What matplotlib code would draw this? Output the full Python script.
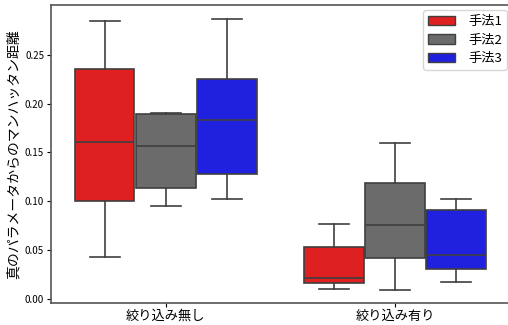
import matplotlib
matplotlib.use('Agg')
from matplotlib import pyplot as plt
from matplotlib.patches import Patch

plt.rcParams['font.family'] = ['Noto Sans CJK JP', 'DejaVu Sans']

groups = ['絞り込み無し', '絞り込み有り']
methods = ['手法1', '手法2', '手法3']
colors = ['#df2020', '#6b6b6b', '#2020df']

# five-number summaries per method: [group0, group1]
whislo = [[0.043, 0.0102], [0.0956, 0.0095], [0.1025, 0.0177]]
q1 = [[0.100, 0.0164], [0.114, 0.042], [0.128, 0.031]]
med = [[0.161, 0.0215], [0.157, 0.0754], [0.183, 0.0454]]
q3 = [[0.235, 0.0533], [0.189, 0.119], [0.2257, 0.0915]]
whishi = [[0.285, 0.0772], [0.190, 0.160], [0.287, 0.1025]]

fig = plt.figure(figsize=(5.08, 3.25), dpi=100)
ax = fig.add_axes([0.1004, 0.0677, 0.903, 0.917])

edge = '#3f3f3f'
w = 0.8 / 3
for m in range(3):
    stats = []
    for g in range(2):
        stats.append({'whislo': whislo[m][g], 'q1': q1[m][g], 'med': med[m][g],
                      'q3': q3[m][g], 'whishi': whishi[m][g], 'fliers': []})
    pos = [g - 0.8 / 2 + w * (m + 0.5) for g in range(2)]
    ax.bxp(stats, positions=pos, widths=w * 0.98, patch_artist=True,
           showfliers=False, manage_ticks=False,
           boxprops=dict(facecolor=colors[m], edgecolor=edge, linewidth=1.2),
           medianprops=dict(color=edge, linewidth=1.2),
           whiskerprops=dict(color=edge, linewidth=1.2),
           capprops=dict(color=edge, linewidth=1.2))

ax.set_xlim(-0.5, 1.5)
ax.set_ylim(-0.0042, 0.301)
ax.set_xticks([0, 1])
ax.set_xticklabels(groups, fontsize=9.5)
ax.set_yticks([0, 0.05, 0.10, 0.15, 0.20, 0.25])
ax.set_yticklabels(['0.00', '0.05', '0.10', '0.15', '0.20', '0.25'], fontsize=7)
ax.tick_params(axis='x', length=3, pad=2)
ax.tick_params(axis='y', length=3, pad=2)
ax.set_ylabel('真のパラメータからのマンハッタン距離', fontsize=10, labelpad=3)

for s in ax.spines.values():
    s.set_color('#555555')
    s.set_linewidth(1.2)

handles = [Patch(facecolor=c, edgecolor=edge, label=l) for c, l in zip(colors, methods)]
ax.legend(handles=handles, loc='upper right', fontsize=9.5, frameon=True,
          bbox_to_anchor=(1.0, 0.992), borderaxespad=0.2,
          labelspacing=0.4, handletextpad=1.0)

fig.savefig('out.png', dpi=100)
